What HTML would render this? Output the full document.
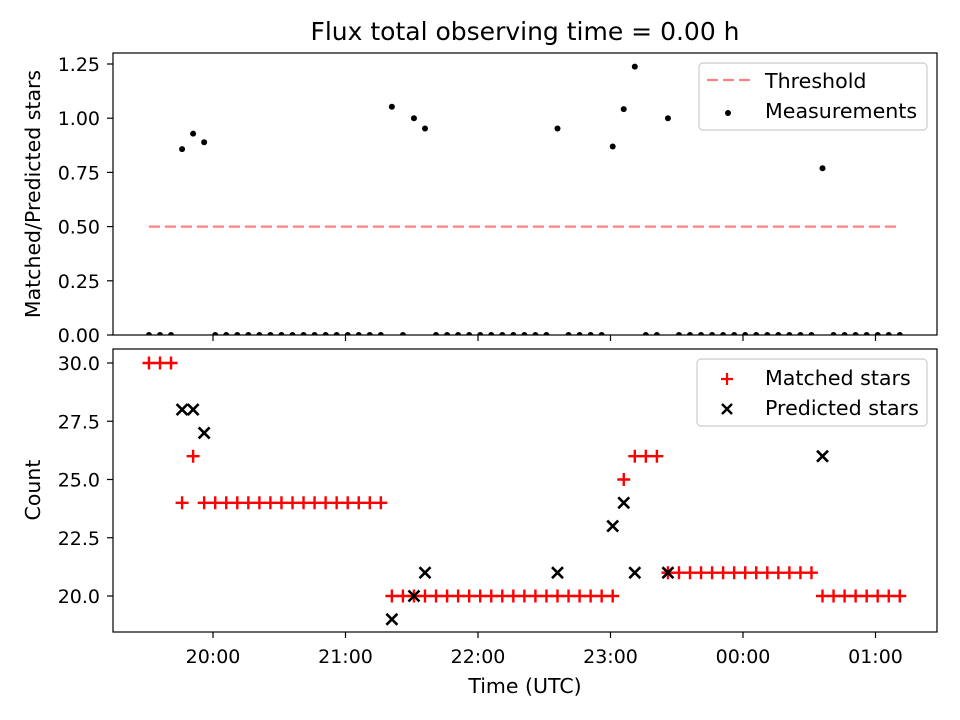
<!DOCTYPE html>
<html><head><meta charset="utf-8"><style>
html,body{margin:0;padding:0;background:#fff;width:960px;height:720px;overflow:hidden}
svg{display:block;font-family:"DejaVu Sans","Liberation Sans",sans-serif}
</style></head><body>
<svg id="c" width="960" height="720" viewBox="0 0 960 720" xmlns="http://www.w3.org/2000/svg" style="overflow:hidden"></svg>
<script>
const startMinutes = -29; // minutes relative to 20:00 for first sample
const stepMinutes = 5;
const matched = [30,30,30,24,26,24,24,24,24,24,24,24,24,24,24,24,24,24,24,24,24,24,
  20,20,20,20,20,20,20,20,20,20,20,20,20,20,20,20,20,20,20,20,20,25,26,26,26,
  21,21,21,21,21,21,21,21,21,21,21,21,21,21,20,20,20,20,20,20,20,20];
const predicted = [0,0,0,28,28,27,0,0,0,0,0,0,0,0,0,0,0,0,0,0,0,0,
  19,0,20,21,0,0,0,0,0,0,0,0,0,0,0,21,0,0,0,0,23,24,21,0,0,
  21,0,0,0,0,0,0,0,0,0,0,0,0,0,26,0,0,0,0,0,0,0];
const threshold = 0.5;
const xTickLabels = ["20:00","21:00","22:00","23:00","00:00","01:00"];
const xTickMinutes = [0,60,120,180,240,300];
const topTicks = [0,0.25,0.5,0.75,1.0,1.25];
const botTicks = [20,22.5,25,27.5,30];

const NS="http://www.w3.org/2000/svg";
const svg=document.getElementById('c');
function el(t,a,p){const e=document.createElementNS(NS,t);for(const k in a)e.setAttribute(k,a[k]);(p||svg).appendChild(e);return e;}
const L=113,R=937;
const xS=m=>213+m*132.5/60;
const yT=v=>335-v*216.8;
const yB=v=>596-(v-20)*23.3;
const tMin=i=>startMinutes+i*stepMinutes;
const ratio=matched.map((m,i)=>predicted[i]>0?m/predicted[i]:0);
const TICK=19, LAB=20.5, LEG=20.6;

let t=el('text',{x:525,y:40,'text-anchor':'middle','font-size':25});t.textContent="Flux total observing time = 0.00 h";


// ---- top panel
const gT=el('g',{});

el('clipPath',{id:'ct'},gT);el('rect',{x:L,y:53,width:R-L,height:282},gT.lastChild);
const thr=el('line',{x1:xS(tMin(0)),x2:xS(tMin(matched.length-1)),y1:yT(threshold),y2:yT(threshold),stroke:'#ff8080','stroke-width':2.2,'stroke-dasharray':'11,5'},gT);

const dots=el('g',{'clip-path':'url(#ct)'},gT);
ratio.forEach((r,i)=>{const c=el('circle',{cx:xS(tMin(i)),cy:yT(r),r:3,fill:'#000'},dots);
});
el('rect',{x:L,y:53,width:R-L,height:282,fill:'none',stroke:'#000','stroke-width':1.2},gT);
topTicks.forEach(v=>{const y=yT(v);el('line',{x1:L-6,x2:L,y1:y,y2:y,stroke:'#000','stroke-width':1.2},gT);
const tx=el('text',{x:L-13,y:y+7,'text-anchor':'end','font-size':TICK},gT);tx.textContent=v.toFixed(2);
});
xTickMinutes.forEach(m=>el('line',{x1:xS(m),x2:xS(m),y1:335,y2:341,stroke:'#000','stroke-width':1.2},gT));
t=el('text',{x:40,y:194,'text-anchor':'middle','font-size':LAB,transform:'rotate(-90 40 194)'},gT);t.textContent="Matched/Predicted stars";

const lg1=el('g',{},gT);
el('rect',{x:699,y:63,width:228,height:67,rx:4,fill:'#fff',stroke:'#ccc','stroke-width':1.2},lg1);
el('line',{x1:707,x2:750,y1:80,y2:80,stroke:'#ff8080','stroke-width':2.2,'stroke-dasharray':'11,5'},lg1);
t=el('text',{x:765,y:88,'font-size':LEG},lg1);t.textContent="Threshold";
el('circle',{cx:728,cy:113,r:3,fill:'#000'},lg1);
t=el('text',{x:765,y:118,'font-size':LEG},lg1);t.textContent="Measurements";

// ---- bottom panel
const gB=el('g',{});

el('clipPath',{id:'cb'},gB);el('rect',{x:L,y:349,width:R-L,height:283},gB.lastChild);
const mk=el('g',{'clip-path':'url(#cb)'},gB);
matched.forEach((m,i)=>{const x=xS(tMin(i)),y=yB(m);
const p=el('path',{d:`M${x-6.5},${y}H${x+6.5}M${x},${y-6.5}V${y+6.5}`,stroke:'#f00','stroke-width':2.4},mk);
});
predicted.forEach((v,i)=>{const x=xS(tMin(i)),y=yB(v);
const p=el('path',{d:`M${x-5.5},${y-5.5}L${x+5.5},${y+5.5}M${x-5.5},${y+5.5}L${x+5.5},${y-5.5}`,stroke:'#000','stroke-width':2.6},mk);
});
el('rect',{x:L,y:349,width:R-L,height:283,fill:'none',stroke:'#000','stroke-width':1.2},gB);
botTicks.forEach(v=>{const y=yB(v);el('line',{x1:L-6,x2:L,y1:y,y2:y,stroke:'#000','stroke-width':1.2},gB);
const tx=el('text',{x:L-13,y:y+7,'text-anchor':'end','font-size':TICK},gB);tx.textContent=v.toFixed(1);
});
xTickMinutes.forEach((m,k)=>{const x=xS(m);el('line',{x1:x,x2:x,y1:632,y2:638,stroke:'#000','stroke-width':1.2},gB);
const tx=el('text',{x:x,y:663,'text-anchor':'middle','font-size':TICK},gB);tx.textContent=xTickLabels[k];
});
t=el('text',{x:40,y:490,'text-anchor':'middle','font-size':LAB,transform:'rotate(-90 40 490)'},gB);t.textContent="Count";

t=el('text',{x:525,y:693,'text-anchor':'middle','font-size':LAB},gB);t.textContent="Time (UTC)";

const lg2=el('g',{},gB);
el('rect',{x:697,y:359,width:230,height:67,rx:4,fill:'#fff',stroke:'#ccc','stroke-width':1.2},lg2);
el('path',{d:'M721,379H733M727,373V385',stroke:'#f00','stroke-width':2.2},lg2);
t=el('text',{x:765,y:385,'font-size':LEG},lg2);t.textContent="Matched stars";
el('path',{d:'M722,404L732,414M722,414L732,404',stroke:'#000','stroke-width':2.4},lg2);
t=el('text',{x:765,y:415,'font-size':LEG},lg2);t.textContent="Predicted stars";
</script>
</body></html>
